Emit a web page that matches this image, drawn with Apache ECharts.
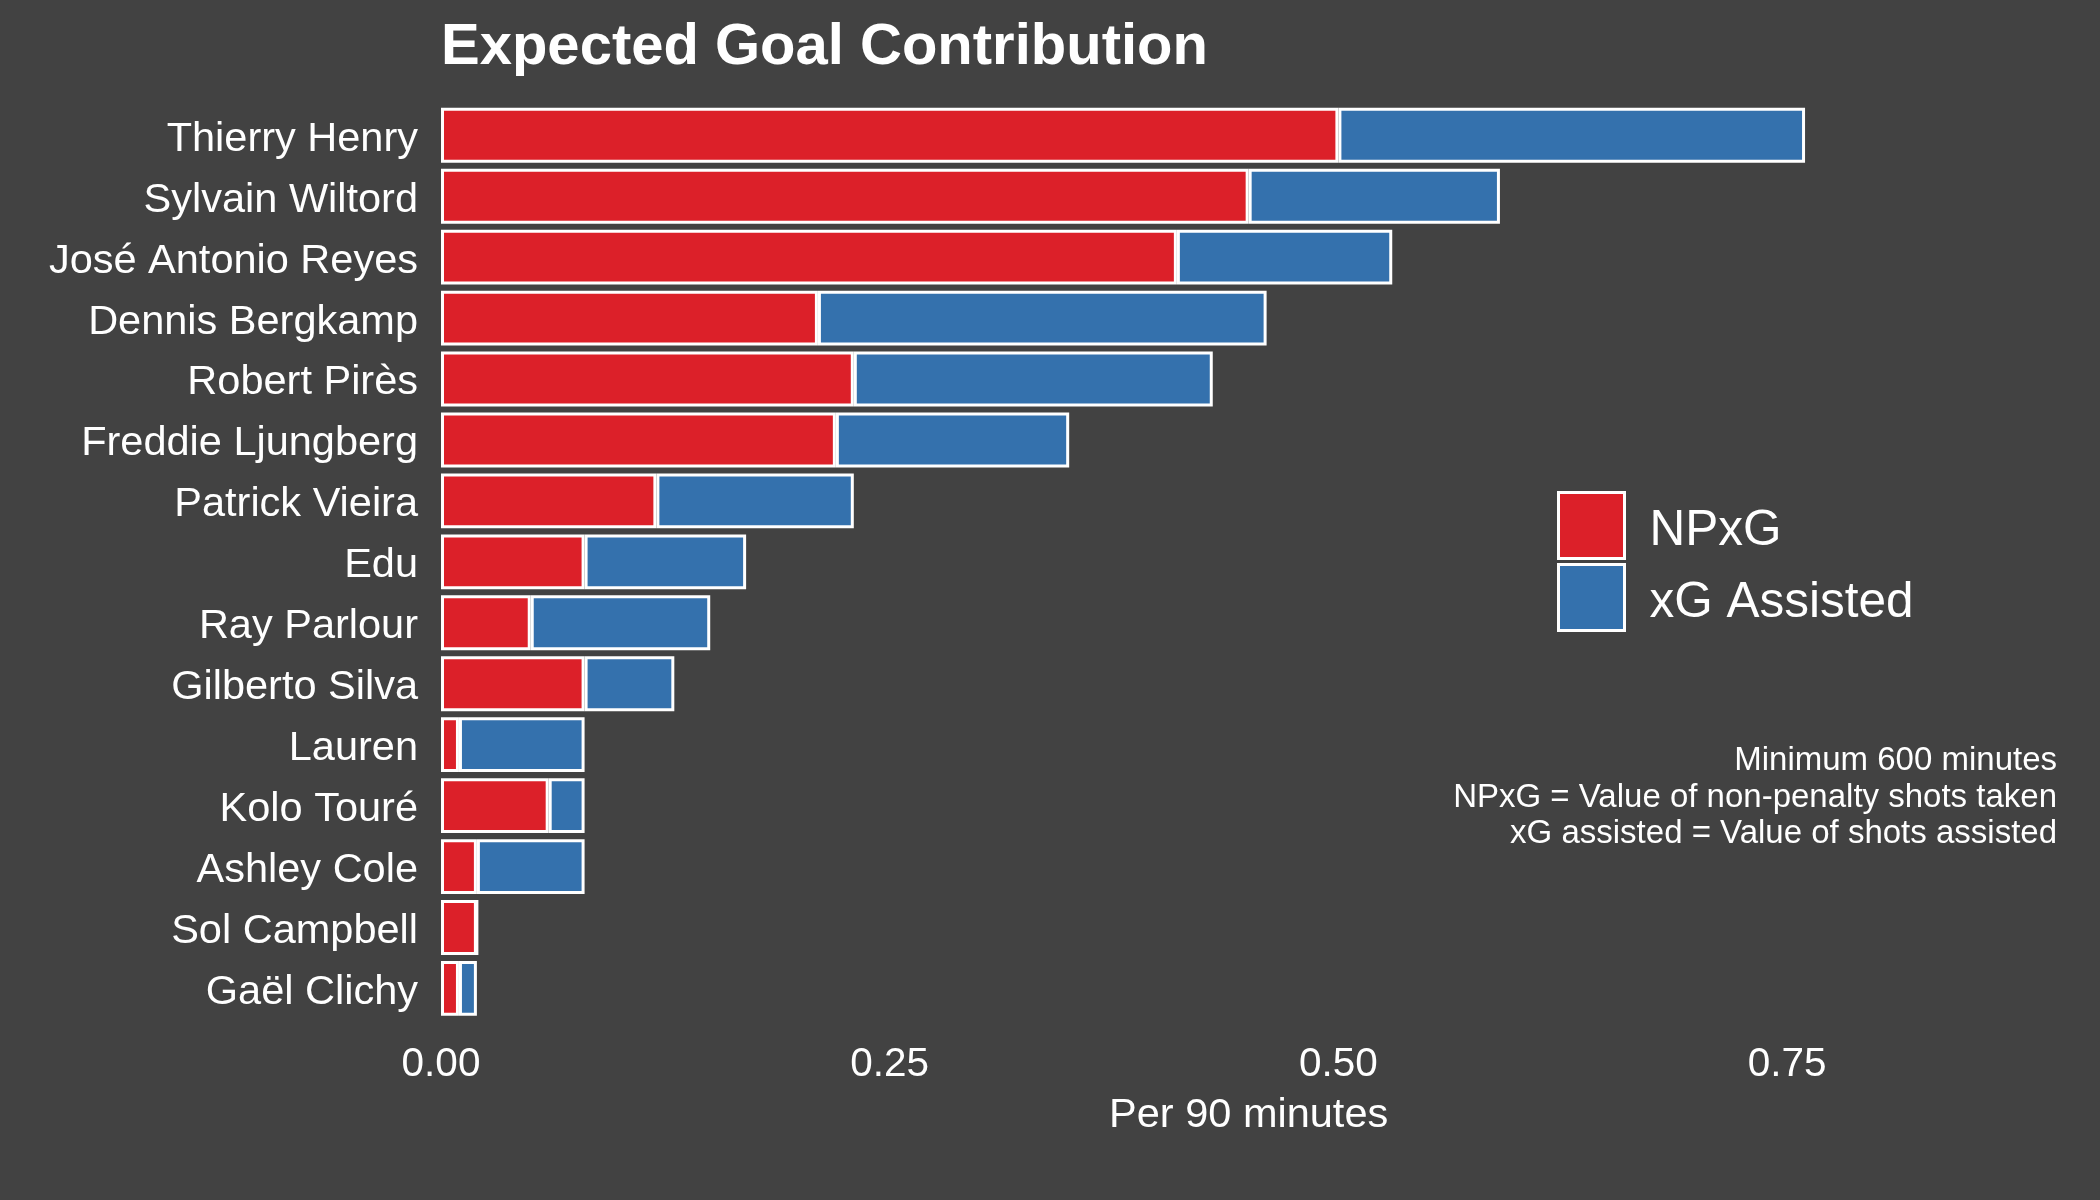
<!DOCTYPE html>
<html>
<head>
<meta charset="utf-8">
<script src="https://cdn.jsdelivr.net/npm/echarts@6/dist/echarts.min.js"></script>
<style>
html,body{margin:0;padding:0;background:#424242;}
#chart{width:2100px;height:1200px;}
</style>
</head>
<body>
<div id="chart"></div>
<script>
const players = ["Thierry Henry","Sylvain Wiltord","José Antonio Reyes","Dennis Bergkamp","Robert Pirès","Freddie Ljungberg","Patrick Vieira","Edu","Ray Parlour","Gilberto Silva","Lauren","Kolo Touré","Ashley Cole","Sol Campbell","Gaël Clichy"];
const npxg = [0.50,0.45,0.41,0.21,0.23,0.22,0.12,0.08,0.05,0.08,0.01,0.06,0.02,0.02,0.01];
const xgAssisted = [0.26,0.14,0.12,0.25,0.20,0.13,0.11,0.09,0.10,0.05,0.07,0.02,0.06,0.00,0.01];
const seriesNames = ["NPxG","xG Assisted"];
const xTicks = [0, 0.25, 0.5, 0.75];
const titleText = "Expected Goal Contribution";
const xAxisTitle = "Per 90 minutes";
const noteLines = ["Minimum 600 minutes","NPxG = Value of non-penalty shots taken","xG assisted = Value of shots assisted"];

const FONT = "'Liberation Sans', Arial, sans-serif";
const RED = "#DC2029";
const BLUE = "#3471AD";

const chart = echarts.init(document.getElementById('chart'), null, {renderer:'canvas'});
const unit = 1794.8;
const xMax = 0.9;
chart.setOption({
  backgroundColor: "#424242",
  animation: false,
  title: {
    text: titleText,
    left: 441, top: 19, padding: 0,
    textStyle: {color:"#fff", fontFamily: FONT, fontWeight:"bold", fontSize:58}
  },
  legend: {
    orient: "vertical",
    left: 1557, top: 491, padding: 0,
    itemWidth: 66, itemHeight: 66, itemGap: 3,
    icon: "rect",
    itemStyle: {borderColor:"#fff", borderWidth:3},
    formatter: "{a|{name}}",
    textStyle: {color:"#fff", fontFamily: FONT, fontSize:49.5,
      rich: {a: {color:"#fff", fontFamily: FONT, fontSize:49.5, padding:[12,0,0,20]}}},
    data: seriesNames
  },
  grid: {left: 441, top: 104.8, width: xMax*unit, height: 914.1, containLabel:false},
  xAxis: {
    type: "value", min: 0, max: xMax, interval: 0.25,
    axisLine:{show:false}, axisTick:{show:false}, splitLine:{show:false},
    axisLabel:{
      color:"#fff", fontFamily: FONT, fontSize:40.5, margin:25, showMaxLabel:false,
      formatter: v => xTicks.some(t => Math.abs(t - v) < 1e-9) ? v.toFixed(2) : ""
    },
    name: xAxisTitle, nameLocation:"middle", nameGap:76,
    nameTextStyle:{color:"#fff", fontFamily: FONT, fontSize:41.5}
  },
  yAxis: {
    type: "category", data: players, inverse: true,
    axisLine:{show:false}, axisTick:{show:false}, splitLine:{show:false},
    axisLabel:{color:"#fff", fontFamily: FONT, fontSize:41.5, margin:23, verticalAlign:"top", lineHeight:8}
  },
  series: [
    {name: seriesNames[0], type:"bar", stack:"t", data: npxg, barCategoryGap:"10%",
     itemStyle:{color:RED, borderColor:"#fff", borderWidth:3}},
    {name: seriesNames[1], type:"bar", stack:"t", data: xgAssisted, barCategoryGap:"10%",
     itemStyle:{color:BLUE, borderColor:"#fff", borderWidth:3}}
  ],
  graphic: [{
    type:"text", right: 2100-2057, top: 743,
    style:{text: noteLines.join("\n"), fill:"#fff", font: "33px " + FONT, textAlign:"right", lineHeight:36.5}
  }]
});
</script>
</body>
</html>
